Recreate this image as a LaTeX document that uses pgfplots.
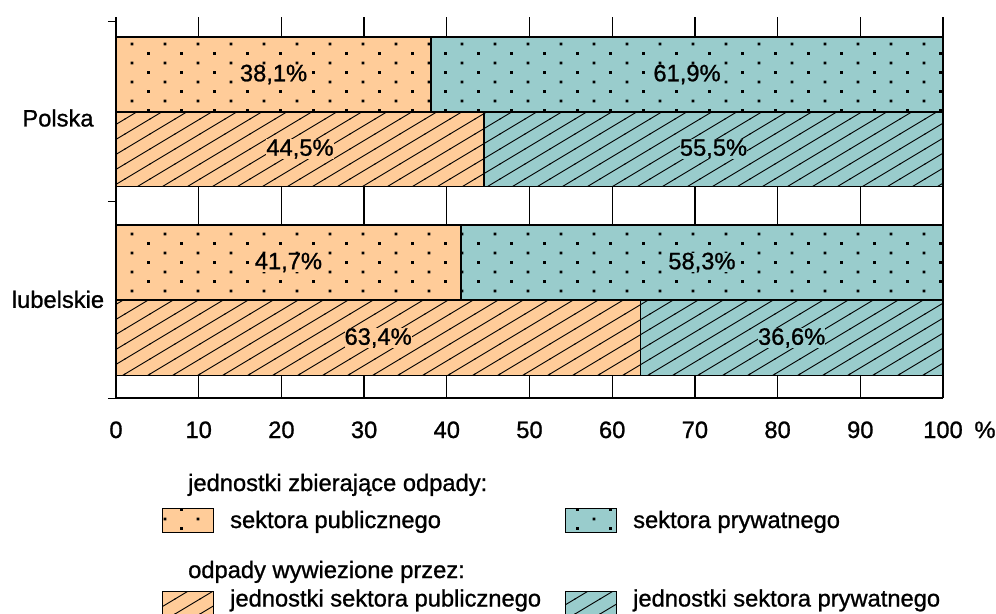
\documentclass[border=0pt]{standalone}
\usepackage{fontspec}
\setmainfont{Liberation Sans}[FakeBold=1.0]
\usepackage{pgfplots}
\pgfplotsset{compat=1.18}
\usetikzlibrary{patterns}
\definecolor{pub}{RGB}{255,204,153}
\definecolor{priv}{RGB}{153,204,204}
\pgfdeclarepatternformonly{sparsedots}{\pgfqpoint{-2pt}{-2pt}}{\pgfqpoint{35pt}{21pt}}{\pgfqpoint{33pt}{19pt}}{%
  \pgfpathrectangle{\pgfqpoint{-1.4pt}{-1.4pt}}{\pgfqpoint{2.8pt}{2.8pt}}%
  \pgfpathrectangle{\pgfqpoint{15.1pt}{8.1pt}}{\pgfqpoint{2.8pt}{2.8pt}}%
  \pgfusepath{fill}}
\pgfdeclarepatternformonly{sparsehatch}{\pgfqpoint{-1pt}{-1pt}}{\pgfqpoint{26pt}{16pt}}{\pgfqpoint{25pt}{15pt}}{%
  \pgfsetlinewidth{0.9pt}%
  \pgfpathmoveto{\pgfqpoint{-1pt}{-0.6pt}}\pgfpathlineto{\pgfqpoint{26pt}{15.6pt}}%
  \pgfusepath{stroke}}
\begin{document}
\begin{tikzpicture}[font=\fontsize{23.7}{28}\selectfont]
\begin{axis}[
  scale only axis, width=827pt, height=381pt,
  xmin=0, xmax=100, ymin=0, ymax=381,
  xbar stacked, bar width=75,
  axis lines*=left,
  x axis line style={line width=2.4pt, -},
  y axis line style={line width=1.6pt, -},
  xtick={0,10,...,100},
  ytick={0,197,377}, yticklabels={},
  tick align=outside, major tick length=8pt,
  xtick style={draw=none},
  ytick style={black, line width=1pt},
  xmajorgrids, major grid style={black, line width=1.3pt},
  xticklabel style={anchor=base, yshift=-32pt},
  extra y ticks={98.6,280}, extra y tick labels={lubelskie,Polska},
  extra y tick style={major tick length=0pt, grid=none, yticklabel style={anchor=center, xshift=-58pt}},
  /pgf/number format/assume math mode=true,
  clip=false,
  point meta=\thisrow{v},
  nodes near coords={\pgfmathfloatifflags{\pgfplotspointmeta}{0}{}{\pgfmathprintnumber[use comma, fixed, fixed zerofill, precision=1, assume math mode=true]{\pgfplotspointmeta}\%}},
  every node near coord/.append style={anchor=center, text=black, inner sep=0pt},
]
% jednostki zbierajace odpady: sektora publicznego (dots)
\addplot[fill=pub, draw=black, line width=1.4pt, postaction={pattern=sparsedots},
  every node near coord/.append style={fill=pub}] table[x=v,y=y]{
v y
38.1 323.5
0 249
41.7 135.5
0 60
};
% sektora prywatnego (dots)
\addplot[fill=priv, draw=black, line width=1.4pt, postaction={pattern=sparsedots},
  every node near coord/.append style={fill=priv}] table[x=v,y=y]{
v y
61.9 323.5
0 249
58.3 135.5
0 60
};
% odpady wywiezione przez jednostki sektora publicznego (hatch)
\addplot[fill=pub, draw=black, line width=1.4pt, postaction={pattern=sparsehatch},
  every node near coord/.append style={fill=pub}] table[x=v,y=y]{
v y
0 323.5
44.5 249
0 135.5
63.4 60
};
% jednostki sektora prywatnego (hatch)
\addplot[fill=priv, draw=black, line width=1.4pt, postaction={pattern=sparsehatch},
  every node near coord/.append style={fill=priv}] table[x=v,y=y]{
v y
0 323.5
55.5 249
0 135.5
36.6 60
};
\node[anchor=base] at (axis cs:105.08,-40) {\%};
\coordinate (bbSW) at (axis cs:-14.027,-216);
\coordinate (bbNE) at (axis cs:106.41,398);
% legend
\node[anchor=base west, inner sep=0pt] at (axis cs:8.706,-93) {jednostki zbierające odpady:};
\draw[fill=pub, line width=1pt, postaction={pattern=sparsedots}] (axis cs:5.683,-110) rectangle (axis cs:11.85,-134);
\node[anchor=base west, inner sep=0pt] at (axis cs:13.785,-130) {sektora publicznego};
\draw[fill=priv, line width=1pt, postaction={pattern=sparsedots}] (axis cs:54.293,-110) rectangle (axis cs:60.46,-134);
\node[anchor=base west, inner sep=0pt] at (axis cs:62.515,-130) {sektora prywatnego};
\node[anchor=base west, inner sep=0pt] at (axis cs:8.706,-180) {odpady wywiezione przez:};
\draw[fill=pub, line width=1pt, postaction={pattern=sparsehatch}] (axis cs:5.683,-193) rectangle (axis cs:11.85,-225);
\node[anchor=base west, inner sep=0pt] at (axis cs:13.785,-208.5) {jednostki sektora publicznego};
\draw[fill=priv, line width=1pt, postaction={pattern=sparsehatch}] (axis cs:54.293,-193) rectangle (axis cs:60.46,-225);
\node[anchor=base west, inner sep=0pt] at (axis cs:62.515,-208.5) {jednostki sektora prywatnego};
\end{axis}
\pgfresetboundingbox
\useasboundingbox (bbSW) rectangle (bbNE);
\end{tikzpicture}
\end{document}
